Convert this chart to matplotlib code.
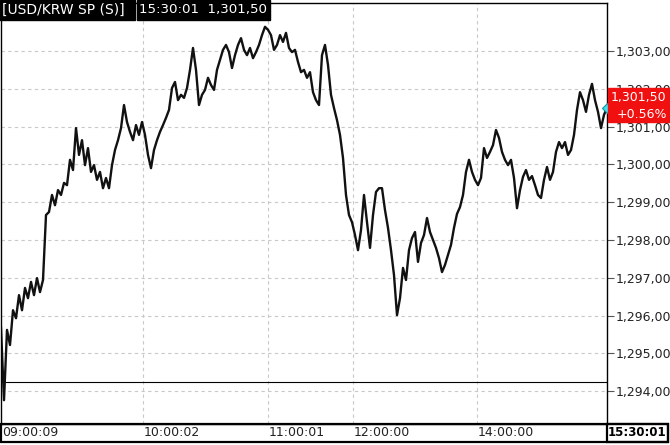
import numpy as np
import matplotlib
matplotlib.use("Agg")
import matplotlib.pyplot as plt
import matplotlib.transforms as mtransforms
from matplotlib.patches import Rectangle

# ── Data (one value every few ticks) ───────────────────────────────────
prices = [
    1295.67, 1293.76, 1295.62, 1295.22, 1296.14, 1295.93, 1296.54, 1296.14, 1296.73, 1296.46,
    1296.89, 1296.54, 1296.99, 1296.62, 1296.94, 1298.66, 1298.74, 1299.19, 1298.92, 1299.32,
    1299.19, 1299.51, 1299.45, 1300.12, 1299.85, 1300.96, 1300.25, 1300.64, 1299.98, 1300.43,
    1299.80, 1299.98, 1299.59, 1299.80, 1299.37, 1299.64, 1299.37, 1299.98, 1300.38, 1300.64,
    1300.96, 1301.57, 1301.12, 1300.86, 1300.64, 1301.04, 1300.78, 1301.12, 1300.78, 1300.25,
    1299.90, 1300.38, 1300.64, 1300.86, 1301.04, 1301.23, 1301.44, 1302.02, 1302.18, 1301.70,
    1301.84, 1301.76, 1302.02, 1302.50, 1303.08, 1302.50, 1301.57, 1301.84, 1301.97, 1302.29,
    1302.10, 1301.97, 1302.50, 1302.76, 1303.03, 1303.16, 1302.97, 1302.55, 1302.89, 1303.16,
    1303.34, 1303.03, 1302.89, 1303.08, 1302.81, 1302.97, 1303.16, 1303.42, 1303.64, 1303.56,
    1303.42, 1303.03, 1303.16, 1303.42, 1303.24, 1303.48, 1303.08, 1302.97, 1303.03, 1302.71,
    1302.44, 1302.50, 1302.29, 1302.44, 1301.91, 1301.70, 1301.57, 1302.89, 1303.16, 1302.63,
    1301.84, 1301.49, 1301.17, 1300.78, 1300.17, 1299.19, 1298.66, 1298.47, 1298.13, 1297.73,
    1298.26, 1299.19, 1298.47, 1297.79, 1298.66, 1299.27, 1299.37, 1299.37, 1298.79, 1298.32,
    1297.73, 1297.07, 1296.01, 1296.46, 1297.26, 1296.94, 1297.73, 1298.05, 1298.21, 1297.42,
    1297.92, 1298.13, 1298.58, 1298.21, 1298.00, 1297.79, 1297.52, 1297.15, 1297.34, 1297.60,
    1297.87, 1298.32, 1298.69, 1298.87, 1299.19, 1299.80, 1300.12, 1299.80, 1299.59, 1299.45,
    1299.64, 1300.43, 1300.17, 1300.33, 1300.51, 1300.91, 1300.70, 1300.33, 1300.12, 1299.98,
    1300.12, 1299.64, 1298.84, 1299.32, 1299.67, 1299.85, 1299.59, 1299.69, 1299.45, 1299.19,
    1299.11, 1299.59, 1299.93, 1299.59, 1299.80, 1300.33, 1300.59, 1300.43, 1300.59, 1300.25,
    1300.38, 1300.78, 1301.44, 1301.91, 1301.70, 1301.39, 1301.84, 1302.13, 1301.70, 1301.39,
    1300.96, 1301.31, 1301.50,
]
prev_close = 1294.25
time_labels = ["09:00:09", "10:00:02", "11:00:01", "12:00:00", "14:00:00"]
time_pos = [0, 47.3, 89, 117.3, 158.7]   # tick index of each label
last_time = "15:30:01"
y_ticks = list(range(1294, 1304))
title = "[USD/KRW SP (S)]"

W, H = 670, 445
fig = plt.figure(figsize=(W / 100, H / 100), dpi=100)
fig.patch.set_facecolor("white")

def fx(px):
    return px / W

def fy(py):
    return 1 - py / H

ax = fig.add_axes([fx(1), fy(424), fx(607) - fx(1), fy(3) - fy(424)])
x = np.arange(len(prices))
ax.set_xlim(0, len(prices) - 1)
ax.set_ylim(1293.13, 1304.27)

# grid
for v in y_ticks:
    ax.axhline(v, color="#c8c8c8", lw=0.8, ls=(0, (3, 3)), zorder=0)
for p in time_pos[1:]:
    ax.axvline(p, color="#c8c8c8", lw=0.8, ls=(0, (3, 3)), zorder=0)

# previous close line
ax.axhline(prev_close, color="black", lw=0.8, zorder=1)

# price line
ax.plot(x, prices, color="#111111", lw=1.7, zorder=2)
ax.plot(x[-1], prices[-1], marker="D", ms=5, color="#40e0f0",
        mec="#1090a0", mew=0.8, clip_on=False, zorder=5)

# axes styling
for s in ax.spines.values():
    s.set_color("black")
    s.set_linewidth(1)
ax.set_xticks([])
ax.yaxis.tick_right()
ax.set_yticks(y_ticks)
ax.set_yticklabels([f"{v:,},00" for v in y_ticks])
ax.tick_params(axis="y", length=5, width=0.8, pad=1, labelsize=9,
               labelcolor="#222222", color="#555555")

# time labels in the bottom bar
trans = mtransforms.blended_transform_factory(ax.transData, fig.transFigure)
for lab, p in zip(time_labels, time_pos):
    ax.text(p + 0.3, fy(433), lab, transform=trans, ha="left", va="center",
            fontsize=9, color="#222222", clip_on=False)
fig.text(fx(666), fy(433), last_time, ha="right", va="center",
         fontsize=8.5, fontweight="bold", color="black")

# bottom bar and right panel frame
fig.add_artist(Rectangle((fx(0.5), fy(442)), fx(668) - fx(0.5), fy(424) - fy(442),
                         transform=fig.transFigure, fill=False, ec="black", lw=1.6))
fig.add_artist(Rectangle((fx(607), fy(442)), fx(668) - fx(607), fy(424) - fy(442),
                         transform=fig.transFigure, fill=False, ec="black", lw=1.6))

# header boxes
fig.add_artist(Rectangle((fx(0), fy(20)), fx(135), fy(0) - fy(20),
                         transform=fig.transFigure, color="black", zorder=10))
fig.add_artist(Rectangle((fx(137), fy(20)), fx(270) - fx(137), fy(0) - fy(20),
                         transform=fig.transFigure, color="black", zorder=10))
fig.text(fx(2), fy(10), title, ha="left", va="center", fontsize=10,
         color="white", zorder=11)
fig.text(fx(139), fy(10), f"{last_time}  1,301,50", ha="left", va="center",
         fontsize=9.6, color="white", zorder=11)

# current price tag
fig.add_artist(Rectangle((fx(608), fy(122)), fx(670) - fx(608), fy(88) - fy(122),
                         transform=fig.transFigure, color="#f01010", zorder=10))
fig.text(fx(611), fy(98), "1,301,50", ha="left", va="center", fontsize=9,
         color="white", zorder=11)
fig.text(fx(617), fy(114), "+0.56%", ha="left", va="center", fontsize=9,
         color="white", zorder=11)

fig.savefig("out.png", dpi=100)
